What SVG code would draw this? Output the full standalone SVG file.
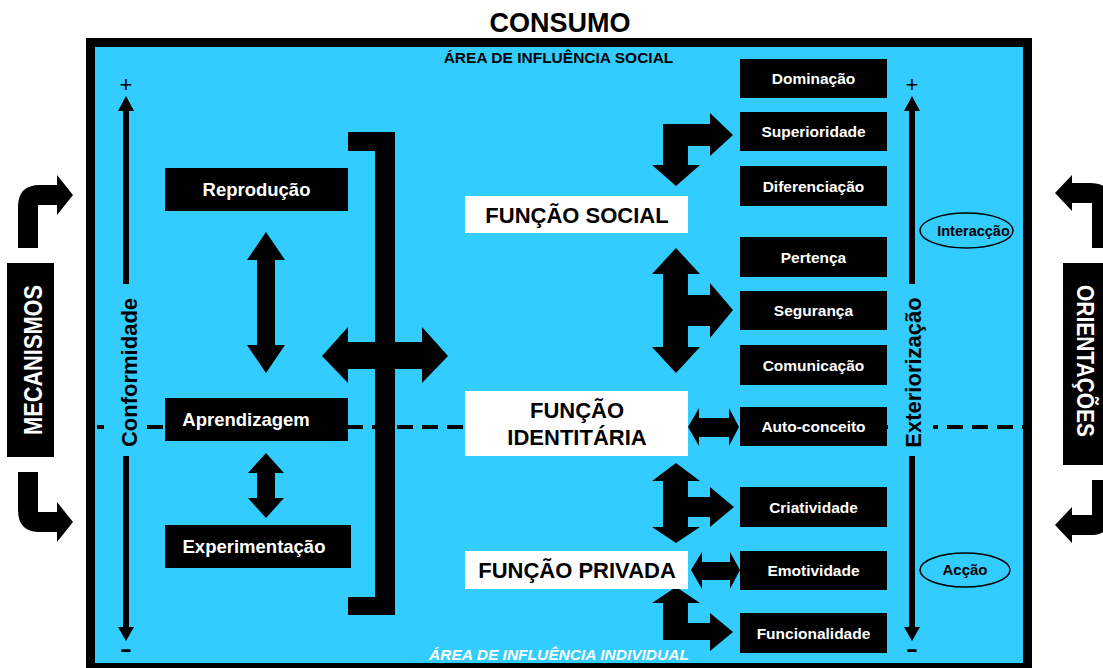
<svg xmlns="http://www.w3.org/2000/svg" width="1103" height="668" viewBox="0 0 1103 668">
<style>
text{font-family:"Liberation Sans",Arial,sans-serif;font-weight:bold}
.bx{fill:#000}
.wb{fill:#fff}
.wt{fill:#fff;font-size:15.5px;text-anchor:middle}
.lt{fill:#fff;font-size:18.5px;text-anchor:middle}
.ct{fill:#000;font-size:22px;text-anchor:middle}
.ar{fill:#000}
.sign{fill:#000;font-size:22px;font-weight:normal;text-anchor:middle}
.dash{fill:#000;font-size:22px;text-anchor:middle}
</style>
<rect width="1103" height="668" fill="#fff"/>
<text x="560" y="32" font-size="27" text-anchor="middle" fill="#000">CONSUMO</text>
<rect x="86" y="38" width="946" height="634" fill="#000"/>
<rect x="95" y="47" width="928" height="616" fill="#33CCFF"/>
<text x="558.5" y="63" font-size="15.5" text-anchor="middle" fill="#000">ÁREA DE INFLUÊNCIA SOCIAL</text>
<text x="559" y="660" font-size="15.5" font-style="italic" text-anchor="middle" fill="#fff">ÁREA DE INFLUÊNCIA INDIVIDUAL</text>
<g id="connectors">
<line x1="97" y1="427" x2="1023" y2="427" stroke="#000" stroke-width="4" stroke-dasharray="16 9"/>
<line x1="126" y1="108" x2="126" y2="629" stroke="#000" stroke-width="6"/>
<polygon class="ar" points="126,96 134,111 118,111"/>
<polygon class="ar" points="126,641 134,627 118,627"/>
<line x1="912" y1="108" x2="912" y2="629" stroke="#000" stroke-width="6"/>
<polygon class="ar" points="912,96 920,111 904,111"/>
<polygon class="ar" points="912,641 920,627 904,627"/>
<path class="ar" d="M18,248 L18,207 Q18,185 40,185 L57,185 L57,175 L73,195 L57,215 L57,205 L38,205 L38,248 Z"/>
<path class="ar" d="M18,472 L18,510 Q18,532 40,532 L57,532 L57,542 L73,522 L57,502 L57,512 L38,512 L38,472 Z"/>
<path class="ar" d="M1092,248 L1092,203 L1072,203 L1072,211 L1055,193 L1072,175 L1072,183 L1090,183 Q1112,183 1112,205 L1112,248 Z"/>
<path class="ar" d="M1092,480 L1092,515 L1072,515 L1072,507 L1055,525 L1072,543 L1072,535 L1090,535 Q1112,535 1112,513 L1112,480 Z"/>
<polygon class="ar" points="348,132 395,132 395,615 348,615 348,597 375,597 375,151 348,151"/>
<polygon class="ar" points="322,356 348,327 348,342 422,342 422,327 448,356 422,383 422,369 348,369 348,383"/>
<polygon class="ar" points="266,232 285,260 275,260 275,345 285,345 266,373 247,345 257,345 257,260 247,260"/>
<polygon class="ar" points="266,453 284,473 275,473 275,498 284,498 266,518 248,498 257,498 257,473 248,473"/>
<polygon class="ar" points="663,124 710,124 710,113 733,135 710,156 710,146 688,146 688,165 700,165 676,186 652,165 663,165"/>
<polygon class="ar" points="676,248 700,274 688,274 688,295 710,295 710,283 733,310 710,338 710,326 688,326 688,347 700,347 676,373 652,347 663,347 663,274 652,274"/>
<polygon class="ar" points="688,427 699,408 699,418 729,418 729,408 739,427 729,446 729,437 699,437 699,446"/>
<polygon class="ar" points="676,463 700,481 688,481 688,497 710,497 710,487 734,507 710,527 710,517 688,517 688,527 700,527 676,543 652,527 663,527 663,481 652,481"/>
<polygon class="ar" points="691,570 702,552 702,562 730,562 730,552 740,570 730,589 730,580 702,580 702,589"/>
<polygon class="ar" points="676,587 700,603 688,603 688,623 710,623 710,613 733,632 710,651 710,640 663,640 663,603 652,603"/>
</g>
<text class="sign" x="126" y="92">+</text>
<text class="dash" x="126" y="656" textLength="12" lengthAdjust="spacingAndGlyphs">-</text>
<text class="sign" x="912" y="92">+</text>
<text class="dash" x="912" y="656" textLength="12" lengthAdjust="spacingAndGlyphs">-</text>
<g id="conformidade">
<rect x="104" y="284" width="41" height="172" fill="#33CCFF"/>
<text transform="translate(137,372.5) rotate(-90)" font-size="22" text-anchor="middle" fill="#000">Conformidade</text>
</g>
<g id="exteriorizacao">
<rect x="893" y="284" width="40" height="172" fill="#33CCFF"/>
<text transform="translate(921,372.5) rotate(-90)" font-size="22" text-anchor="middle" fill="#000">Exteriorização</text>
</g>
<g id="mecanismos">
<rect x="7" y="263" width="47" height="194" fill="#000"/>
<text transform="translate(42,360) rotate(-90)" font-size="25" text-anchor="middle" fill="#fff" textLength="150" lengthAdjust="spacingAndGlyphs">MECANISMOS</text>
</g>
<g id="orientacoes">
<rect x="1063" y="263" width="50" height="202" fill="#000"/>
<text transform="translate(1077,361) rotate(90)" font-size="23" text-anchor="middle" fill="#fff" textLength="152" lengthAdjust="spacingAndGlyphs">ORIENTAÇÕES</text>
</g>
<g id="reproducao"><rect class="bx" x="165" y="168" width="183" height="43"/><text class="lt" x="256.5" y="196">Reprodução</text></g>
<g id="aprendizagem"><rect class="bx" x="165" y="398" width="183" height="43"/><text class="lt" x="246" y="426">Aprendizagem</text></g>
<g id="experimentacao"><rect class="bx" x="165" y="525" width="186" height="43"/><text class="lt" x="254" y="553">Experimentação</text></g>
<g id="funcao-social"><rect class="wb" x="465" y="196" width="223" height="37"/><text class="ct" x="577" y="222.5">FUNÇÃO SOCIAL</text></g>
<g id="funcao-identitaria"><rect class="wb" x="465" y="391" width="223" height="65"/><text class="ct" x="577" y="418">FUNÇÃO</text><text class="ct" x="577" y="445">IDENTITÁRIA</text></g>
<g id="funcao-privada"><rect class="wb" x="465" y="551" width="223" height="38"/><text class="ct" x="577" y="578">FUNÇÃO PRIVADA</text></g>
<g id="dominacao"><rect class="bx" x="740" y="59" width="147" height="39"/><text class="wt" x="813.5" y="84">Dominação</text></g>
<g id="superioridade"><rect class="bx" x="740" y="112" width="147" height="39"/><text class="wt" x="813.5" y="137">Superioridade</text></g>
<g id="diferenciacao"><rect class="bx" x="740" y="166" width="147" height="40"/><text class="wt" x="813.5" y="191.5">Diferenciação</text></g>
<g id="pertenca"><rect class="bx" x="740" y="237" width="147" height="40"/><text class="wt" x="813.5" y="262.5">Pertença</text></g>
<g id="seguranca"><rect class="bx" x="740" y="291" width="147" height="39"/><text class="wt" x="813.5" y="316">Segurança</text></g>
<g id="comunicacao"><rect class="bx" x="740" y="345" width="147" height="40"/><text class="wt" x="813.5" y="370.5">Comunicação</text></g>
<g id="auto-conceito"><rect class="bx" x="740" y="407" width="147" height="39"/><text class="wt" x="813.5" y="432">Auto-conceito</text></g>
<g id="criatividade"><rect class="bx" x="740" y="487" width="147" height="40"/><text class="wt" x="813.5" y="512.5">Criatividade</text></g>
<g id="emotividade"><rect class="bx" x="740" y="551" width="147" height="39"/><text class="wt" x="813.5" y="576">Emotividade</text></g>
<g id="funcionalidade"><rect class="bx" x="740" y="613" width="147" height="40"/><text class="wt" x="813.5" y="638.5">Funcionalidade</text></g>
<g id="interaccao"><ellipse cx="966.5" cy="230.5" rx="46.5" ry="17.5" fill="none" stroke="#000" stroke-width="1.5"/><text x="973.5" y="235.5" font-size="14.5" text-anchor="middle" fill="#000">Interacção</text></g>
<g id="accao"><ellipse cx="965" cy="570" rx="45" ry="17" fill="none" stroke="#000" stroke-width="1.5"/><text x="965" y="575" font-size="15" text-anchor="middle" fill="#000">Acção</text></g>
</svg>
